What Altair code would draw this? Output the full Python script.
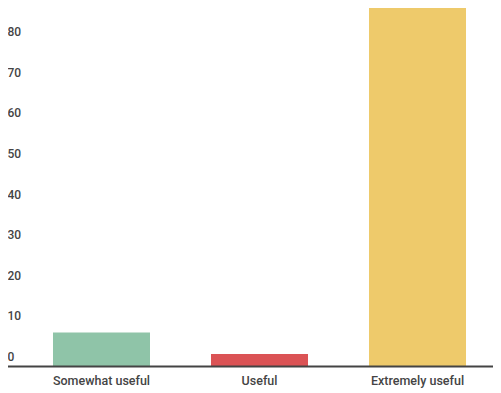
import altair as alt
import pandas as pd

categories = ["Somewhat useful", "Useful", "Extremely useful"]
values = [8.4, 3.1, 89.2]
colors = ["#8FC4A8", "#DB5355", "#EECA6B"]
y_ticks = [0, 10, 20, 30, 40, 50, 60, 70, 80]

df = pd.DataFrame({"category": categories, "value": values, "color": colors})

W = 470.5
H = 358.5

x_scale = alt.Scale(domain=categories, range=[0, 474], paddingInner=0.386, paddingOuter=0.193)
y_scale = alt.Scale(domain=[0, 88.25], nice=False, zero=True)

bars = alt.Chart(df).mark_bar(clip=False).encode(
    x=alt.X("category:N", sort=categories, scale=x_scale,
            axis=alt.Axis(title=None, domain=False, ticks=False, labelAngle=0,
                          labelPadding=7.5, labelFontSize=12.5, labelFont="Roboto",
                          labelFontWeight=500, labelColor="#444444")),
    y=alt.Y("value:Q", scale=y_scale,
            axis=alt.Axis(title=None, domain=False, ticks=False, grid=False,
                          values=y_ticks, labelAlign="left", labelPadding=15.5,
                          labelBaseline="alphabetic", labelOffset=-6,
                          labelFontSize=12, labelFont="Roboto", labelFontWeight=500,
                          labelColor="#444444")),
    color=alt.Color("color:N", scale=None),
)

base_df = pd.DataFrame({"v": [0]})
baseline = alt.Chart(base_df).mark_rule(color="#444444", strokeWidth=2).encode(
    y=alt.Y("v:Q", scale=y_scale),
    x=alt.value(-15.5),
    x2=alt.value(W),
)

chart = alt.layer(bars, baseline).properties(
    width=W, height=H,
    autosize=alt.AutoSizeParams(type="none"),
    padding={"left": 14.5, "top": 0, "right": 0, "bottom": 21.5},
).configure_view(stroke=None)

chart.save("out.html", embed_options={"renderer": "svg", "actions": False})
